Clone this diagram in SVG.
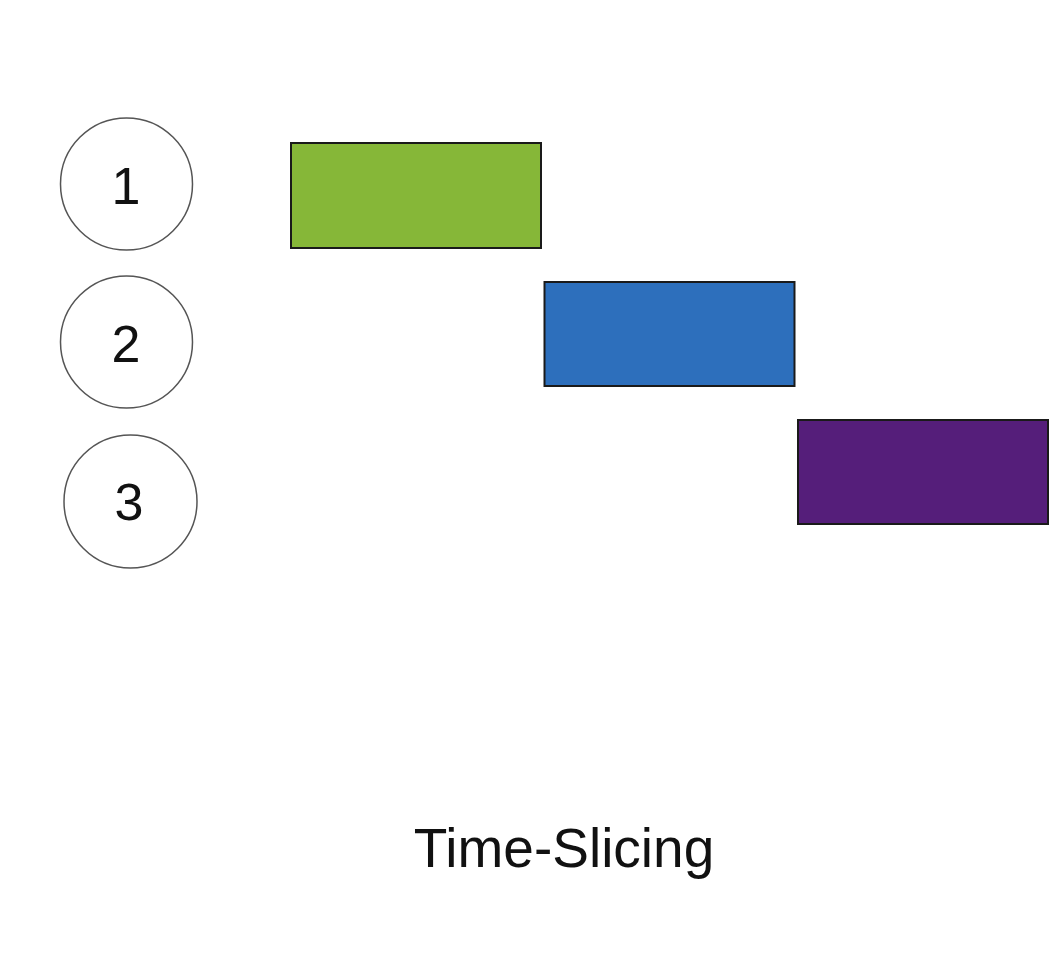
<svg xmlns="http://www.w3.org/2000/svg" width="1064" height="962" viewBox="0 0 1064 962">
<style>
.c{fill:#fff;stroke:#555;stroke-width:1.5}
.n{font-family:"Liberation Sans",Arial,sans-serif;font-size:52px;fill:#111;text-anchor:middle}
.r{stroke:#1a1a1a;stroke-width:2}
.t{font-family:"Liberation Sans",Arial,sans-serif;font-size:55px;fill:#111;text-anchor:middle}
</style>
<rect width="1064" height="962" fill="#fff"/>
<g id="p1"><circle class="c" cx="126.5" cy="184" r="66"/><text class="n" x="126" y="204">1</text></g>
<g id="p2"><circle class="c" cx="126.5" cy="342" r="66"/><text class="n" x="126" y="362">2</text></g>
<g id="p3"><circle class="c" cx="130.5" cy="501.5" r="66.5"/><text class="n" x="129" y="520">3</text></g>
<g id="s1"><rect class="r" x="291" y="143" width="250" height="105" fill="#86b738"/></g>
<g id="s2"><rect class="r" x="544.5" y="282" width="250" height="104" fill="#2d6fbc"/></g>
<g id="s3"><rect class="r" x="798" y="420" width="250" height="104" fill="#551e7a"/></g>
<g id="connectors"></g>
<g id="title"><text class="t" x="564" y="867">Time-Slicing</text></g>
</svg>
